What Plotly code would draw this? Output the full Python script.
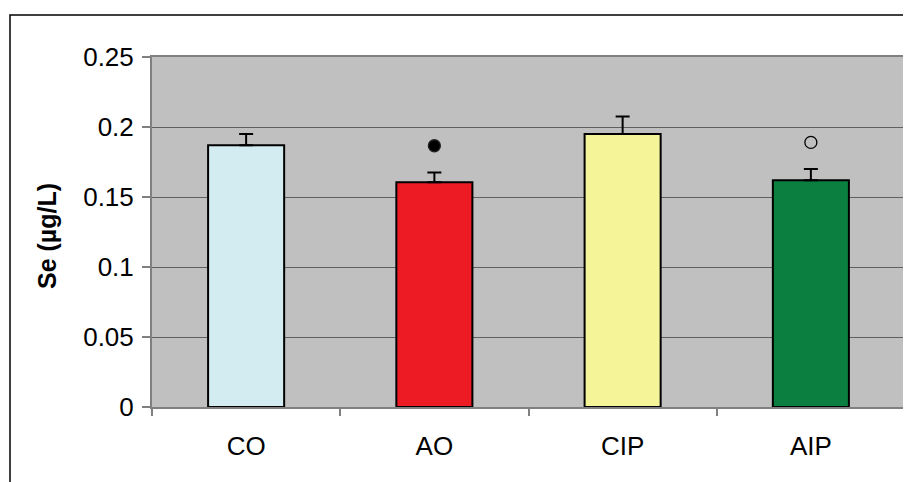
import plotly.graph_objects as go

categories = ["CO", "AO", "CIP", "AIP"]
se_values = [0.187, 0.1605, 0.195, 0.162]
se_errors = [0.008, 0.007, 0.0125, 0.008]
bar_colors = ["#D2ECF2", "#ED1C24", "#F6F498", "#0A7F3F"]

sig_categories = ["AO", "AIP"]
sig_values = [0.1866, 0.189]
sig_symbols = ["circle", "circle-open"]

y_ticks = [0, 0.05, 0.1, 0.15, 0.2, 0.25]

# page body has an 8px margin; work in figure coordinates
OFF = 8
W, H = 911 - OFF, 482 - OFF
L, T = 152 - OFF, 57 - OFF
PR, PB = 905 - OFF, 407 - OFF
R, B = W - PR, H - PB
pw, ph = PR - L, PB - T


def px_x(x):
    return (x - OFF - L) / pw


def px_y(y):
    return (PB - (y - OFF)) / ph


fig = go.Figure()
fig.add_trace(go.Bar(
    x=categories, y=se_values,
    marker=dict(color=bar_colors, line=dict(color="#000000", width=2)),
    error_y=dict(type="data", array=se_errors, arrayminus=[0] * len(se_errors),
                 symmetric=False, color="#000000", thickness=2, width=7),
    showlegend=False,
))
fig.add_trace(go.Scatter(
    x=sig_categories, y=sig_values, mode="markers",
    marker=dict(symbol=sig_symbols, size=12, color="#000000",
                line=dict(color="#222222", width=1.3)),
    showlegend=False,
))

fig.update_layout(
    width=W, height=H,
    margin=dict(l=L, r=R, t=T, b=B, autoexpand=False),
    paper_bgcolor="#FFFFFF", plot_bgcolor="#C0C0C0",
    bargap=0.596,
    font=dict(family="Liberation Sans, Arial, sans-serif", size=26, color="#000000"),
    xaxis=dict(
        type="category", tickson="boundaries", ticks="outside", ticklen=7,
        tickcolor="#808080", tickwidth=1.5, showgrid=False,
        showline=True, linecolor="#808080", linewidth=2, mirror=True,
        tickfont=dict(size=26), ticklabelstandoff=15,
    ),
    yaxis=dict(
        range=[0, 0.25], tickvals=y_ticks, ticks="outside", ticklen=8,
        tickcolor="#808080", tickwidth=1.5,
        showgrid=True, gridcolor="#606060", gridwidth=1,
        showline=True, linecolor="#808080", linewidth=2, mirror=True,
        zeroline=False, tickfont=dict(size=26), ticklabelstandoff=3,
    ),
    annotations=[dict(
        text="<b>Se (µg/L)</b>", textangle=-90, showarrow=False,
        xref="paper", yref="paper",
        x=px_x(47), y=px_y(236),
        xanchor="center", yanchor="middle",
        font=dict(size=25, color="#000000"),
    )],
    shapes=[dict(
        type="rect", xref="paper", yref="paper", layer="below",
        x0=px_x(10), x1=px_x(960),
        y0=px_y(540), y1=px_y(15),
        line=dict(color="#000000", width=1.5), fillcolor="rgba(0,0,0,0)",
    )],
)

fig.write_html("out.html")
